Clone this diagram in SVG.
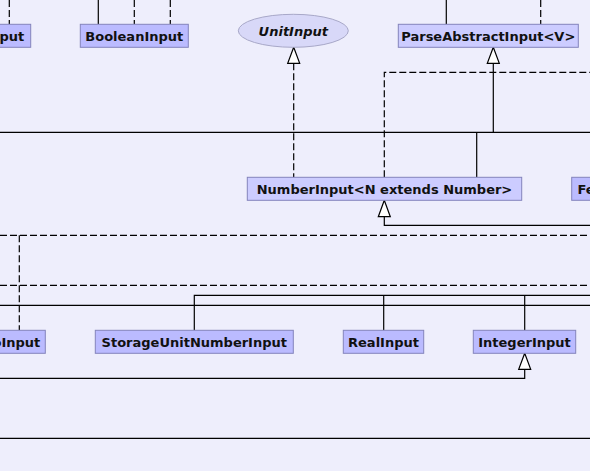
<svg xmlns="http://www.w3.org/2000/svg" width="590" height="471" viewBox="0 0 590 471">
<style>
.bg{fill:#EEEEFC}
.cls{fill:#BBBBFF;stroke:#8484BC;stroke-width:1}
.abs{fill:#CCCCFF;stroke:#8484BC;stroke-width:1}
.itf{fill:#D8D8F8;stroke:#A8A8C8;stroke-width:1}
.lbl{font-family:"DejaVu Sans","Liberation Sans",sans-serif;font-size:13px;font-weight:bold;fill:#111;text-anchor:middle}
.it{font-style:italic}
.end{text-anchor:end}
.start{text-anchor:start}
.ln{fill:none;stroke:#000;stroke-width:1.2}
.dash{stroke-dasharray:7,3}
.tri{fill:#FFFFFF;stroke:#000;stroke-width:1.2}
</style>
<rect class="bg" x="0" y="0" width="590" height="471"/>
<g id="connectors">
  <line class="ln dash" x1="9.3" y1="0" x2="9.3" y2="24.3"/>
  <line class="ln" x1="98.3" y1="0" x2="98.3" y2="24.3"/>
  <line class="ln dash" x1="134.3" y1="0" x2="134.3" y2="24.3"/>
  <line class="ln dash" x1="170.3" y1="0" x2="170.3" y2="24.3"/>
  <line class="ln" x1="446.3" y1="0" x2="446.3" y2="24.3"/>
  <line class="ln dash" x1="540.7" y1="0" x2="540.7" y2="24.3"/>
  <line class="ln" x1="0" y1="132.3" x2="590" y2="132.3"/>
  <line class="ln dash" x1="293.7" y1="63.3" x2="293.7" y2="177.3"/>
  <polygon class="tri" points="293.7,47.3 287.7,63.3 299.7,63.3"/>
  <polyline class="ln dash" points="384.3,177.3 384.3,72.3 590,72.3"/>
  <line class="ln" x1="493.3" y1="63.3" x2="493.3" y2="132.3"/>
  <polygon class="tri" points="493.3,47.3 487.3,63.3 499.3,63.3"/>
  <line class="ln" x1="476.7" y1="132.3" x2="476.7" y2="177.3"/>
  <polyline class="ln" points="384.3,216.7 384.3,225.3 590,225.3"/>
  <polygon class="tri" points="384.3,200.3 378.3,216.7 390.3,216.7"/>
  <line class="ln dash" x1="0" y1="235.3" x2="590" y2="235.3"/>
  <line class="ln dash" x1="19.3" y1="235.3" x2="19.3" y2="330.3"/>
  <line class="ln dash" x1="0" y1="285.3" x2="590" y2="285.3"/>
  <polyline class="ln" points="194.3,330.3 194.3,295.3 590,295.3"/>
  <line class="ln" x1="383.7" y1="295.3" x2="383.7" y2="330.3"/>
  <line class="ln" x1="524.7" y1="295.3" x2="524.7" y2="330.3"/>
  <line class="ln" x1="0" y1="305.3" x2="590" y2="305.3"/>
  <polyline class="ln" points="524.7,369.3 524.7,378.3 0,378.3"/>
  <polygon class="tri" points="524.7,353.3 518.7,369.3 530.7,369.3"/>
  <line class="ln" x1="0" y1="438.3" x2="590" y2="438.3"/>
</g>
<g id="node-put">
  <rect class="cls" x="-60" y="24.3" width="90.7" height="23"/>
  <text class="lbl end" x="24.3" y="40.5">put</text>
</g>
<g id="node-BooleanInput">
  <rect class="cls" x="80.3" y="24.3" width="108" height="23"/>
  <text class="lbl" x="134.3" y="40.5">BooleanInput</text>
</g>
<g id="node-UnitInput">
  <ellipse class="itf" cx="293.3" cy="30.8" rx="55" ry="16.5"/>
  <text class="lbl it" x="293.3" y="35.5">UnitInput</text>
</g>
<g id="node-ParseAbstractInput">
  <rect class="abs" x="398.3" y="24.3" width="180" height="23"/>
  <text class="lbl" x="488.3" y="40.5">ParseAbstractInput&lt;V&gt;</text>
</g>
<g id="node-NumberInput">
  <rect class="abs" x="247.3" y="177.3" width="274.4" height="23"/>
  <text class="lbl" x="384.5" y="193.5">NumberInput&lt;N extends Number&gt;</text>
</g>
<g id="node-Fe">
  <rect class="cls" x="571.7" y="177.3" width="60" height="23"/>
  <text class="lbl start" x="577.5" y="193.5">Fe</text>
</g>
<g id="node-oInput">
  <rect class="cls" x="-60" y="330.3" width="105.3" height="23"/>
  <text class="lbl end" x="40.3" y="346.5">oInput</text>
</g>
<g id="node-StorageUnitNumberInput">
  <rect class="cls" x="95.3" y="330.3" width="198" height="23"/>
  <text class="lbl" x="194.3" y="346.5">StorageUnitNumberInput</text>
</g>
<g id="node-RealInput">
  <rect class="cls" x="343.3" y="330.3" width="80.4" height="23"/>
  <text class="lbl" x="383.5" y="346.5">RealInput</text>
</g>
<g id="node-IntegerInput">
  <rect class="cls" x="473.3" y="330.3" width="102.4" height="23"/>
  <text class="lbl" x="524.5" y="346.5">IntegerInput</text>
</g>
</svg>
